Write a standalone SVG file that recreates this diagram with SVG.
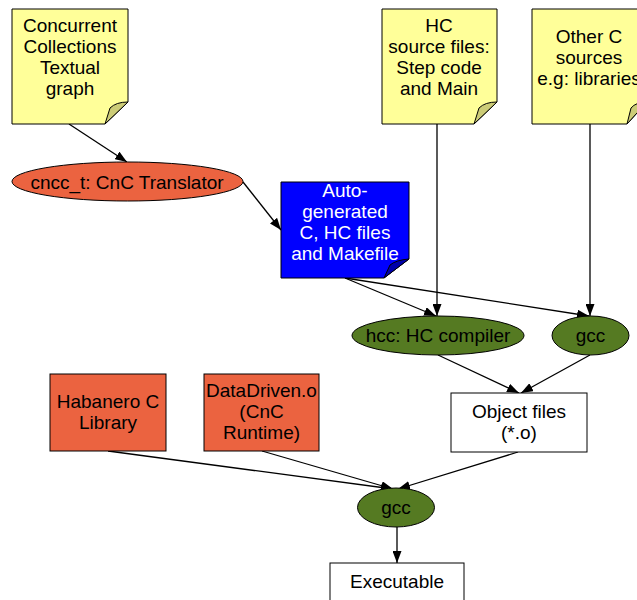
<svg xmlns="http://www.w3.org/2000/svg" width="637" height="600" viewBox="0 0 637 600">
<style>
text{font-family:"Liberation Sans",Arial,sans-serif;font-size:19px;text-anchor:middle;fill:#000}
.note{fill:#ffff99;stroke:#000;stroke-width:1}
.fold{fill:#cccc77;stroke:#000;stroke-width:1}
.or{fill:#eb6340;stroke:#000;stroke-width:1}
.gr{fill:#557a22;stroke:#000;stroke-width:1}
.wh{fill:#fff;stroke:#000;stroke-width:1}
.e{stroke:#000;stroke-width:1.3;fill:none;marker-end:url(#ah)}
</style>
<defs>
<marker id="ah" markerWidth="12" markerHeight="9" refX="12" refY="4.5" orient="auto" markerUnits="userSpaceOnUse">
<path d="M0,0 L12,4.5 L0,9 Z" fill="#000"/>
</marker>
</defs>
<rect width="637" height="600" fill="#fff"/>
<g id="connectors">
<line class="e" x1="69" y1="124" x2="127" y2="162"/>
<line class="e" x1="243" y1="182" x2="281" y2="230"/>
<line class="e" x1="437" y1="124" x2="437" y2="316"/>
<line class="e" x1="590" y1="124" x2="590" y2="316"/>
<line class="e" x1="345" y1="278" x2="436" y2="316"/>
<line class="e" x1="345" y1="278" x2="589" y2="316"/>
<line class="e" x1="438" y1="355" x2="519" y2="393"/>
<line class="e" x1="590" y1="355" x2="521" y2="393"/>
<line class="e" x1="108" y1="451" x2="393" y2="489"/>
<line class="e" x1="262" y1="451" x2="393" y2="489"/>
<line class="e" x1="518" y1="452" x2="398" y2="489"/>
<line class="e" x1="397" y1="527" x2="397" y2="563"/>
</g>
<g id="n_cnc_graph">
<path class="note" d="M12,9 H128 V102 L105,124 H12 Z"/>
<path class="fold" d="M105,124 L128,102 Q116,102 110,108 Z"/>
<text x="70" y="32">Concurrent</text>
<text x="70" y="53">Collections</text>
<text x="70" y="74">Textual</text>
<text x="70" y="95">graph</text>
</g>
<g id="n_hc_src">
<path class="note" d="M382,9 H497 V102 L474,124 H382 Z"/>
<path class="fold" d="M474,124 L497,102 Q485,102 479,108 Z"/>
<text x="439" y="32">HC</text>
<text x="439" y="53">source files:</text>
<text x="439" y="74">Step code</text>
<text x="439" y="95">and Main</text>
</g>
<g id="n_other_c">
<path class="note" d="M532,9 H647 V102 L627,124 H532 Z"/>
<path class="fold" d="M627,124 L647,102 Q636,102 631,108 Z"/>
<text x="589" y="43">Other C</text>
<text x="589" y="64">sources</text>
<text x="589" y="85">e.g: libraries</text>
</g>
<g id="n_cncc_t">
<ellipse class="or" cx="127.5" cy="181.5" rx="115.5" ry="19.5"/>
<text x="127" y="189">cncc_t: CnC Translator</text>
</g>
<g id="n_autogen">
<path d="M281,182 H409 V259 L384,278 H281 Z" fill="#0000ff" stroke="#000" stroke-width="1"/>
<path d="M384,278 L409,259 Q396,260 390,265 Z" fill="#0000aa" stroke="#000" stroke-width="1"/>
<text x="345" y="197" style="fill:#fff">Auto-</text>
<text x="345" y="218" style="fill:#fff">generated</text>
<text x="345" y="239" style="fill:#fff">C, HC files</text>
<text x="345" y="260" style="fill:#fff">and Makefile</text>
</g>
<g id="n_hcc">
<ellipse class="gr" cx="438" cy="335.5" rx="86" ry="19.5"/>
<text x="438" y="342">hcc: HC compiler</text>
</g>
<g id="n_gcc1">
<ellipse class="gr" cx="590.5" cy="335.5" rx="38.5" ry="19.5"/>
<text x="590.5" y="342">gcc</text>
</g>
<g id="n_objects">
<rect class="wh" x="451" y="393" width="136" height="59"/>
<text x="519" y="418">Object files</text>
<text x="519" y="439">(*.o)</text>
</g>
<g id="n_habanero">
<rect class="or" x="50" y="374" width="116" height="77"/>
<text x="108" y="408">Habanero C</text>
<text x="108" y="429">Library</text>
</g>
<g id="n_datadriven">
<rect class="or" x="204" y="374" width="115" height="77"/>
<text x="261.5" y="397">DataDriven.o</text>
<text x="261.5" y="418">(CnC</text>
<text x="261.5" y="439">Runtime)</text>
</g>
<g id="n_gcc2">
<ellipse class="gr" cx="396" cy="507.5" rx="38.5" ry="19.5"/>
<text x="396" y="514">gcc</text>
</g>
<g id="n_exe">
<rect class="wh" x="330" y="563" width="134" height="60"/>
<text x="397" y="588">Executable</text>
</g>
</svg>
